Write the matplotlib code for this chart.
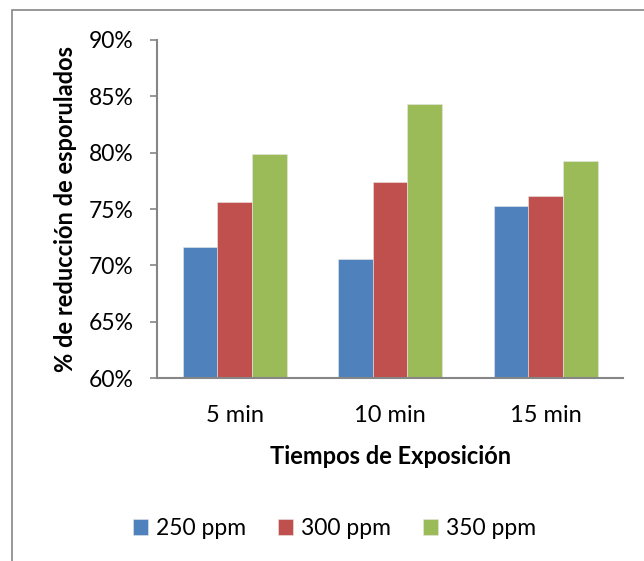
import numpy as np
import matplotlib.pyplot as plt
from matplotlib.patches import Rectangle

plt.rcParams['font.family'] = ['Lato', 'DejaVu Sans']

# 數據
tiempos = ['5 min', '10 min', '15 min']
series = ['250 ppm', '300 ppm', '350 ppm']
v250 = [71.6, 70.6, 75.3]
v300 = [75.6, 77.4, 76.2]
v350 = [79.9, 84.3, 79.3]
colores = ['#4F81BD', '#C0504D', '#9BBB59']

fig = plt.figure(figsize=(6.44, 5.61), dpi=100)
ax = fig.add_axes([0.2438, 0.3257, 0.7242, 0.6032])

x = np.arange(len(tiempos))
w = 0.2225
for i, (vals, lab, c) in enumerate(zip([v250, v300, v350], series, colores)):
    ax.bar(x + (i - 1) * w, vals, w, color=c, label=lab,
           edgecolor='#e8e8e8', linewidth=0.4, zorder=2)

ax.set_xlim(-0.5, 2.5)
ax.set_ylim(60, 90)
ax.set_yticks(np.arange(60, 91, 5))
ax.set_yticklabels([f'{t}%' for t in range(60, 91, 5)], fontsize=16.5)
ax.set_xticks(x)
ax.set_xticklabels(tiempos, fontsize=17)
ax.tick_params(axis='x', length=0, pad=19)
ax.tick_params(axis='y', length=5, color='#868686', width=1.2, pad=12)

for s in ['top', 'right']:
    ax.spines[s].set_visible(False)
for s in ['left', 'bottom']:
    ax.spines[s].set_color('#868686')
    ax.spines[s].set_linewidth(1.5)

ax.set_xlabel('Tiempos de Exposición', fontsize=17, fontweight='bold', labelpad=14)
ax.set_ylabel('% de reducción de esporulados', fontsize=17, fontweight='bold', labelpad=8)

fig.legend(loc='center', bbox_to_anchor=(0.52, 0.058), ncol=3, frameon=False,
           fontsize=16.5, handlelength=0.65, handleheight=0.65, handletextpad=0.35,
           columnspacing=1.4)

# 外框
fig.patches.append(Rectangle((12 / 644, -0.1), 1.2, 1 - 10 / 561 + 0.1,
                             transform=fig.transFigure, fill=False,
                             edgecolor='#868686', linewidth=1.2))

fig.savefig('out.png', dpi=100)
